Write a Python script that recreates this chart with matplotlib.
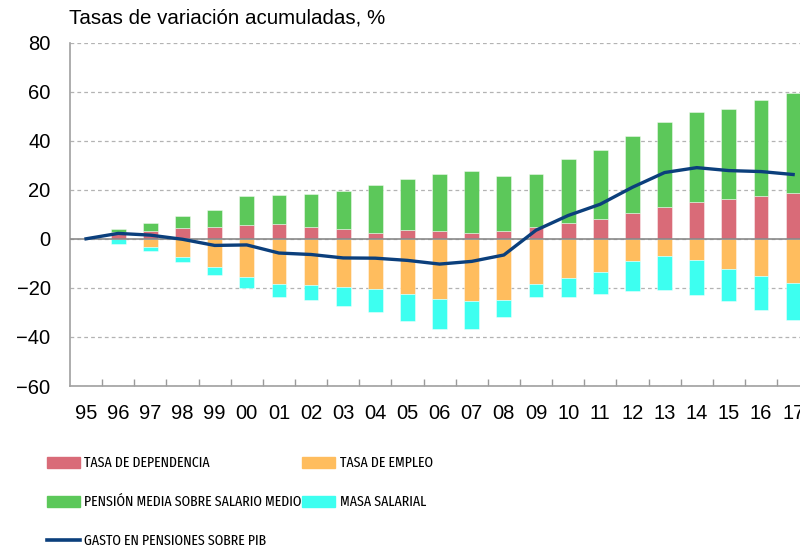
import numpy as np
import matplotlib
matplotlib.use("Agg")
import matplotlib.pyplot as plt
from matplotlib.patches import Patch
from matplotlib.lines import Line2D

years = ["95", "96", "97", "98", "99", "00", "01", "02", "03", "04", "05", "06",
         "07", "08", "09", "10", "11", "12", "13", "14", "15", "16", "17"]

# componentes positivos (apilados desde cero hacia arriba)
dependencia = [0, 2.7, 3.2, 4.2, 5.0, 5.8, 6.0, 4.9, 3.8, 2.4, 3.4, 3.1,
               2.3, 3.1, 4.7, 6.4, 8.0, 10.4, 13.1, 15.2, 16.1, 17.6, 18.6]
pension_media = [0, 1.4, 3.2, 5.1, 6.8, 11.7, 11.9, 13.5, 15.6, 19.4, 21.1, 23.3,
                 25.2, 22.4, 21.7, 26.1, 28.0, 31.3, 34.7, 36.3, 36.7, 38.8, 40.9]

# componentes negativos (apilados desde cero hacia abajo)
empleo = [0, 0, -3.4, -7.3, -11.4, -15.7, -18.3, -18.8, -19.6, -20.3, -22.5, -24.4,
          -25.5, -24.8, -18.4, -16.1, -13.4, -9.2, -7.0, -8.7, -12.2, -15.3, -18.0]
masa_salarial = [0, -2.2, -1.5, -2.3, -3.2, -4.2, -5.4, -6.3, -7.6, -9.6, -10.8, -12.2,
                 -11.4, -7.2, -5.2, -7.5, -9.0, -12.1, -14.0, -14.1, -13.1, -13.8, -15.2]

gasto_pib = [0, 2.2, 1.5, -0.2, -2.7, -2.5, -5.8, -6.4, -7.8, -7.9, -8.8, -10.3,
             -9.2, -6.6, 3.5, 9.5, 14.1, 21.0, 27.0, 29.0, 27.8, 27.4, 26.2]

c_dep = "#d96b78"
c_emp = "#ffbd5e"
c_pen = "#5cc85a"
c_mas = "#3dfff0"
c_gas = "#0b3f7c"

plt.rcParams['font.family'] = ['Liberation Sans', 'DejaVu Sans']

fig = plt.figure(figsize=(8, 5.47), dpi=100)
ax = fig.add_axes([0.0875, 0.2943, 0.924, 0.628])

x = np.arange(len(years))
w = 0.46
edge = (1, 1, 1, 0.5)
ax.bar(x, dependencia, w, color=c_dep, edgecolor=edge, lw=0.6, zorder=2)
ax.bar(x, pension_media, w, bottom=dependencia, color=c_pen, edgecolor=edge, lw=0.6, zorder=2)
ax.bar(x, empleo, w, color=c_emp, edgecolor=edge, lw=0.6, zorder=2)
ax.bar(x, masa_salarial, w, bottom=empleo, color=c_mas, edgecolor=edge, lw=0.6, zorder=2)
ax.axhline(0, color="#8a8a8a", lw=1.2, zorder=3)
ax.plot(x, gasto_pib, color=c_gas, lw=2.4, zorder=4, solid_joinstyle='round')

ax.set_xlim(-0.5, 22.5)
ax.set_ylim(-60, 80)
ax.set_yticks(np.arange(-60, 81, 20))
ax.yaxis.grid(True, ls=(0, (3, 2.5)), color="#b3b3b3", lw=0.9, zorder=0)
ax.set_axisbelow(True)

ax.set_xticks(x)
ax.set_xticklabels(years)
ax.set_xticks(np.arange(0.5, 22.5, 1), minor=True)
ax.tick_params(axis='x', which='major', length=0, pad=13, labelsize=14.5)
ax.tick_params(axis='x', which='minor', direction='in', length=5, color="#9a9a9a", width=1)
ax.tick_params(axis='y', length=0, pad=14, labelsize=14.5)

for s in ["top", "right"]:
    ax.spines[s].set_visible(False)
for s in ["left", "bottom"]:
    ax.spines[s].set_color("#a0a0a0")
    ax.spines[s].set_linewidth(1.2)

fig.text(69 / 800, 1 - 18 / 547, "Tasas de variación acumuladas, %", fontsize=14.8,
         va="center", ha="left")

# leyenda en dos columnas
leg_font = {'family': ['Fira Sans Extra Condensed', 'Roboto Condensed', 'DejaVu Sans'],
            'size': 10.8}
col1 = [Patch(color=c_dep), Patch(color=c_pen), Line2D([], [], color=c_gas, lw=2.6)]
lab1 = ["TASA DE DEPENDENCIA", "PENSIÓN MEDIA SOBRE SALARIO MEDIO", "GASTO EN PENSIONES SOBRE PIB"]
col2 = [Patch(color=c_emp), Patch(color=c_mas)]
lab2 = ["TASA DE EMPLEO", "MASA SALARIAL"]
kw = dict(loc="upper left", frameon=False, prop=leg_font, handlelength=2.2,
          handleheight=0.75, handletextpad=0.3, labelspacing=1.65, borderpad=0,
          borderaxespad=0)
fig.legend(col1, lab1, bbox_to_anchor=(47 / 800, 1 - 456 / 547), **kw)
fig.legend(col2, lab2, bbox_to_anchor=(302 / 800, 1 - 456 / 547), **kw)

fig.savefig("out.png", dpi=100)
